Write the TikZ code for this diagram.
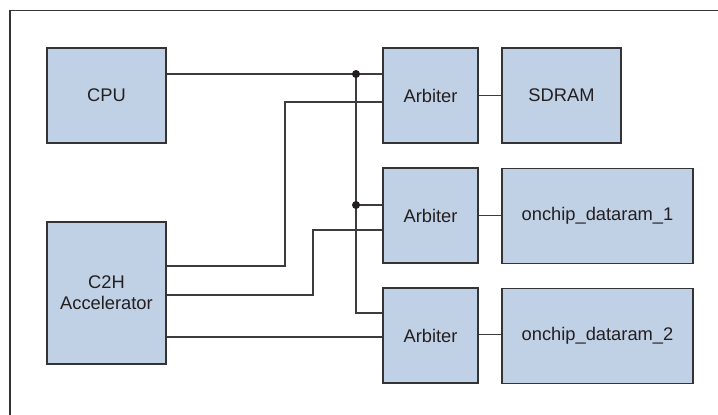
\documentclass[tikz,border=0pt]{standalone}
\usepackage{fontspec}
\setmainfont{Liberation Sans}
\definecolor{boxfill}{RGB}{192,208,229}
\definecolor{boxline}{RGB}{51,51,56}
\definecolor{wire}{RGB}{60,60,64}
\definecolor{txt}{RGB}{35,31,32}
\begin{document}
\begin{tikzpicture}[x=1pt,y=-1pt,
  blk/.style={draw=boxline,line width=1.3pt,fill=boxfill,inner sep=0pt,
    text=txt,align=center,font=\fontsize{18.3}{21}\selectfont},
  wr/.style={draw=wire,line width=1.2pt},
  junc/.style={circle,fill=txt,inner sep=0pt,minimum size=8pt}]
\useasboundingbox (0,0) rectangle (718,415);
\draw[line width=1.4pt,draw=boxline] (10,415) -- (10,10.5) -- (718,10.5);
% blocks
\node[blk,minimum width=119pt,minimum height=95pt] (cpu) at (106.5,95.5) {CPU};
\node[blk,minimum width=119pt,minimum height=142pt] (c2h) at (106.5,293) {C2H\\Accelerator};
\node[blk,minimum width=95pt,minimum height=95pt] (a1) at (430.5,95.5) {Arbiter};
\node[blk,minimum width=119pt,minimum height=95pt] (sdram) at (561.5,95.5) {SDRAM};
\node[blk,minimum width=95pt,minimum height=95pt] (a2) at (430.5,215.5) {Arbiter};
\node[blk,minimum width=191pt,minimum height=95pt] (oc1) at (597.5,216) {onchip\_dataram\_1};
\node[blk,minimum width=95pt,minimum height=95pt] (a3) at (430.5,335.5) {Arbiter};
\node[blk,minimum width=191pt,minimum height=95pt] (oc2) at (597.5,335.8) {onchip\_dataram\_2};
% junctions
\coordinate (j1) at (356,74);
\coordinate (j2) at (356,205);
\coordinate (jb) at (356,313);
\coordinate (k1) at (285,102);
\coordinate (k2) at (313,230);
% wires
\draw[wr] (cpu.east |- j1) -- (a1.west |- j1);
\draw[wr] (j1) -- (jb) -- (a3.west |- jb);
\draw[wr] (j2) -- (a2.west |- j2);
\draw[wr] (a1.west |- k1) -- (k1) -- (k1 |- 0,266) -- (c2h.east |- 0,266);
\draw[wr] (a2.west |- k2) -- (k2) -- (k2 |- 0,295) -- (c2h.east |- 0,295);
\draw[wr] (c2h.east |- 0,337) -- (a3.west |- 0,337);
\draw[wr] (a1.east) -- (sdram.west);
\draw[wr] (a2.east) -- (a2.east -| oc1.west);
\draw[wr] (a3.east |- 0,334.5) -- (oc2.west |- 0,334.5);
\node[junc] (d1) at (j1) {};
\node[junc] (d2) at (j2) {};
\end{tikzpicture}
\end{document}
